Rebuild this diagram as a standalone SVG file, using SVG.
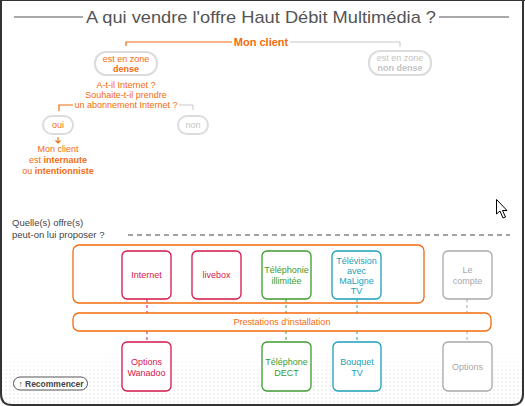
<svg xmlns="http://www.w3.org/2000/svg" width="525" height="406" viewBox="0 0 525 406">
<defs>
<style>
text{font-family:"Liberation Sans","DejaVu Sans",Arial,sans-serif;}
.t{font-size:9px;text-anchor:middle}
.or{fill:#f26b0f}
.gr{fill:#c4c4c4}
.pill{fill:#fff;stroke:#dcdcdc;stroke-width:2}
.box{fill:#fff;stroke-width:1.3}
.red{stroke:#d4164a}.redt{fill:#d4164a}
.grn{stroke:#3c9b2f}.grnt{fill:#3c9b2f}
.tea{stroke:#1c9fb8}.teat{fill:#1c9fb8}
.gry{stroke:#a8a8a8}.gryt{fill:#a8a8a8}
.dash{stroke-dasharray:3,3;stroke-width:1;fill:none}
</style>
<pattern id="dots" width="4" height="4" patternUnits="userSpaceOnUse"><rect x="1" y="1" width="2" height="2" fill="#f2f2f2"/></pattern>
<linearGradient id="fade" x1="0" y1="0" x2="0" y2="1"><stop offset="0" stop-color="#fff" stop-opacity="1"/><stop offset="1" stop-color="#fff" stop-opacity="0"/></linearGradient>
</defs>
<rect width="525" height="406" fill="#fff"/>
<rect x="2" y="350" width="520" height="54" fill="url(#dots)"/>
<rect x="2" y="350" width="520" height="30" fill="url(#fade)"/>
<path d="M1,0 V394 Q1,405 12,405 H512 Q523,405 523,394 V0" fill="none" stroke="#333" stroke-width="2"/>
<line x1="0" y1="0.5" x2="525" y2="0.5" stroke="#333" stroke-width="1"/>

<g id="title">
<line x1="14" y1="17" x2="83" y2="17" stroke="#555" stroke-width="1"/>
<line x1="439" y1="17" x2="509" y2="17" stroke="#555" stroke-width="1"/>
<text x="86" y="23" font-size="17" textLength="350" lengthAdjust="spacingAndGlyphs" fill="#555">A qui vendre l'offre Haut Débit Multimédia ?</text>
</g>

<g id="connectors">
<path d="M126,46 V42 H232" fill="none" stroke="#f26b0f" stroke-width="1.2"/>
<path d="M290,42 H400 V47" fill="none" stroke="#c8c8c8" stroke-width="1"/>
<path d="M59,111 V105 H73" fill="none" stroke="#f26b0f" stroke-width="1.2"/>
<path d="M179,105 H193 V110" fill="none" stroke="#c8c8c8" stroke-width="1"/>
<path d="M58,137 V143 M55.5,140.5 L58,143 L60.5,140.5" fill="none" stroke="#f26b0f" stroke-width="1.1"/>
<line x1="147" y1="299" x2="147" y2="313" class="dash red"/>
<line x1="147" y1="331" x2="147" y2="342" class="dash red"/>
<line x1="286" y1="299" x2="286" y2="313" class="dash grn"/>
<line x1="286" y1="331" x2="286" y2="342" class="dash grn"/>
<line x1="357" y1="299" x2="357" y2="313" class="dash tea"/>
<line x1="357" y1="331" x2="357" y2="342" class="dash tea"/>
<line x1="467" y1="299" x2="467" y2="313" class="dash gry"/>
<line x1="467" y1="331" x2="467" y2="342" class="dash gry"/>
</g>

<g id="mon-client">
<text x="261" y="46" font-size="11" font-weight="bold" text-anchor="middle" class="or">Mon client</text>
</g>

<g id="zone-dense">
<rect x="95" y="52" width="62" height="23" rx="11" class="pill"/>
<text x="126" y="62" class="t or" font-size="8.5">est en zone</text>
<text x="126" y="72" class="t or" font-size="8.5" font-weight="bold">dense</text>
</g>

<g id="zone-non-dense">
<rect x="369" y="51" width="62" height="24" rx="11" class="pill"/>
<text x="400" y="61" class="t gr" font-size="8.5">est en zone</text>
<text x="400" y="71" class="t gr" font-size="8.5" font-weight="bold">non dense</text>
</g>

<g id="question">
<text x="126" y="88" class="t or" font-size="8.5">A-t-il Internet ?</text>
<text x="126" y="98" class="t or" font-size="8.5">Souhaite-t-il prendre</text>
<text x="126" y="108" class="t or" font-size="8.5">un abonnement Internet ?</text>
</g>

<g id="oui">
<rect x="43" y="116" width="30" height="18" rx="9" class="pill"/>
<text x="58" y="128" class="t or" font-size="8.5">oui</text>
</g>

<g id="non">
<rect x="178" y="116" width="30" height="18" rx="9" class="pill"/>
<text x="193" y="128" class="t gr" font-size="8.5">non</text>
</g>

<g id="internaute">
<text x="58" y="152" class="t or" font-size="8.5">Mon client</text>
<text x="58" y="163" class="t or" font-size="8.5">est <tspan font-weight="bold">internaute</tspan></text>
<text x="58" y="174" class="t or" font-size="8.5">ou <tspan font-weight="bold">intentionniste</tspan></text>
</g>

<g id="offres-question">
<text x="12" y="226" font-size="9.5" fill="#444">Quelle(s) offre(s)</text>
<text x="12" y="238" font-size="9.5" fill="#444">peut-on lui proposer ?</text>
<line x1="128" y1="235" x2="510" y2="235" stroke="#444" stroke-width="1" stroke-dasharray="5,4"/>
</g>

<g id="groupe-offres">
<rect x="73" y="245" width="351" height="58" rx="6" fill="none" stroke="#f26b0f" stroke-width="1.3"/>
</g>

<g id="internet">
<rect x="122" y="251" width="49" height="48" rx="5" class="box red"/>
<text x="146.5" y="278" class="t redt">Internet</text>
</g>
<g id="livebox">
<rect x="192" y="251" width="49" height="48" rx="5" class="box red"/>
<text x="216.5" y="278" class="t redt">livebox</text>
</g>
<g id="telephonie">
<rect x="262" y="251" width="49" height="48" rx="5" class="box grn"/>
<text x="286.5" y="273" class="t grnt">Téléphonie</text>
<text x="286.5" y="284" class="t grnt">illimitée</text>
</g>
<g id="television">
<rect x="332" y="251" width="49" height="48" rx="5" class="box tea"/>
<text x="356.5" y="264" class="t teat">Télévision</text>
<text x="356.5" y="274" class="t teat">avec</text>
<text x="356.5" y="284" class="t teat">MaLigne</text>
<text x="356.5" y="294" class="t teat">TV</text>
</g>
<g id="le-compte">
<rect x="443" y="251" width="49" height="48" rx="5" class="box gry"/>
<text x="467.5" y="273" class="t gryt">Le</text>
<text x="467.5" y="284" class="t gryt">compte</text>
</g>

<g id="prestations">
<rect x="73" y="313" width="418" height="18" rx="6" fill="#fff" stroke="#f26b0f" stroke-width="1.3"/>
<text x="282" y="325" class="t or" font-size="8">Prestations d'installation</text>
</g>

<g id="options-wanadoo">
<rect x="122" y="342" width="49" height="49" rx="5" class="box red"/>
<text x="146.5" y="365" class="t redt">Options</text>
<text x="146.5" y="376" class="t redt">Wanadoo</text>
</g>
<g id="telephone-dect">
<rect x="262" y="342" width="49" height="49" rx="5" class="box grn"/>
<text x="286.5" y="365" class="t grnt">Téléphone</text>
<text x="286.5" y="376" class="t grnt">DECT</text>
</g>
<g id="bouquet-tv">
<rect x="333" y="342" width="48" height="49" rx="5" class="box tea"/>
<text x="357" y="365" class="t teat">Bouquet</text>
<text x="357" y="376" class="t teat">TV</text>
</g>
<g id="options">
<rect x="443" y="342" width="49" height="49" rx="5" class="box gry"/>
<text x="467.5" y="370" class="t gryt">Options</text>
</g>

<g id="recommencer">
<rect x="13.5" y="377" width="74" height="13" rx="6.5" fill="#fff" stroke="#555" stroke-width="1"/>
<text x="51" y="386.5" font-size="8.5" font-weight="bold" text-anchor="middle" fill="#444">↑ Recommencer</text>
</g>

<g id="cursor">
<path d="M496.5,199.5 V214 L500,211 L503,218 L505.5,217 L502.5,210.5 L507,210.5 Z" fill="#fff" stroke="#000" stroke-width="1"/>
</g>
</svg>
